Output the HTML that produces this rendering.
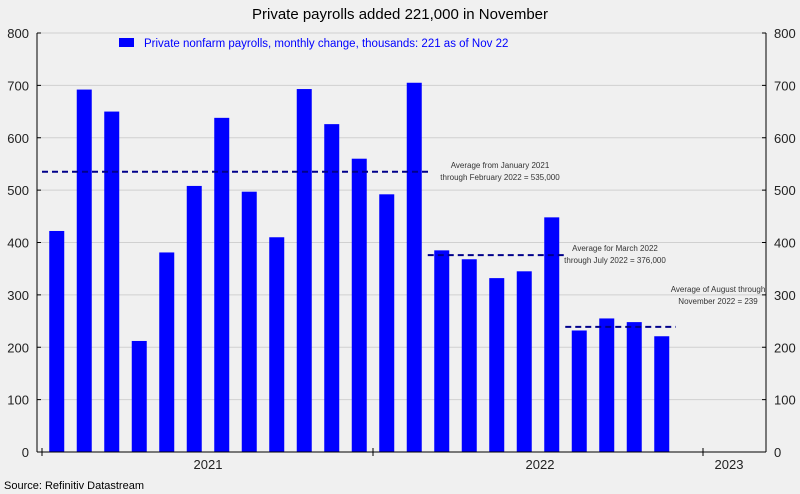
<!DOCTYPE html>
<html><head><meta charset="utf-8"><style>
body{margin:0;background:#f0f0f0;font-family:"Liberation Sans",sans-serif}
svg{display:block}
</style></head><body>
<svg id="c" width="800" height="494" viewBox="0 0 800 494">
<rect width="800" height="494" fill="#f0f0f0"/>
<text x="400" y="19" font-size="15" text-anchor="middle" fill="#000">Private payrolls added 221,000 in November</text>
<g id="grid"></g>
<g id="bars"></g>
<g id="avgs"></g>
<g id="axes"></g>
<rect x="119" y="38" width="15" height="9" fill="#0000ff"/>
<text x="144" y="47" font-size="11.5" fill="#0000ff">Private nonfarm payrolls, monthly change, thousands: 221 as of Nov 22</text>
<text x="4" y="489" font-size="11" fill="#000">Source: Refinitiv Datastream</text>
</svg>
<script>
const values=[422,692,650,212,381,508,638,497,410,693,626,560,492,705,385,368,332,345,448,232,255,248,221];
const yTicks=[0,100,200,300,400,500,600,700,800];
const years=["2021","2022","2023"];
const avgValues=[535,376,239];
const avgStart=[0,14,19];
const avgEnd=[13,18,22];
const avgLabels=[["Average from January 2021","through February 2022 = 535,000"],["Average for March 2022","through July 2022 = 376,000"],["Average of August through","November 2022 = 239"]];
const NS="http://www.w3.org/2000/svg";
const L=37,R=766,T=33,B=452;
const y=v=>B-(v/800)*(B-T);
const x=i=>373+(i-12)*27.5+13.75;
function mk(t,a,p){const e=document.createElementNS(NS,t);for(const k in a)e.setAttribute(k,a[k]);document.getElementById(p).appendChild(e);return e;}
yTicks.forEach(v=>{
 const g=mk('line',{x1:L,x2:R,y1:y(v),y2:y(v),stroke:'#d0d0d0','stroke-width':1},'grid');
 
 
 [[L-8,'end',L,L+4],[R+8,'start',R-4,R]].forEach(([tx,an,a,b])=>{
  const t=mk('text',{x:tx,y:y(v)+5,'font-size':13,'text-anchor':an,fill:'#222'},'axes');t.textContent=v;
  
  
  mk('line',{x1:a,x2:b,y1:y(v),y2:y(v),stroke:'#000'},'axes');
 });
});
values.forEach((v,i)=>{
 const r=mk('rect',{x:x(i)-7.5,y:y(v),width:15,height:B-y(v),fill:'#0000ff'},'bars');
 
 
});
avgValues.forEach((v,k)=>{
 const x1=k==0?42:x(avgStart[k])-14, x2=x(avgEnd[k])+14;
 const l=mk('line',{x1:x1,x2:x2,y1:y(v),y2:y(v),stroke:'#00008b','stroke-width':2,'stroke-dasharray':'6,4'},'avgs');
 
 
 const tx=[500,615,718][k], ty=[y(v)-4,y(v)-4,y(v)-35][k];
 avgLabels[k].forEach((s,j)=>{
  const t=mk('text',{x:tx,y:ty+j*12,'font-size':8,'text-anchor':'middle',fill:'#333'},'avgs');t.textContent=s;
  
  
 });
});
mk('line',{x1:L,x2:L,y1:T,y2:B,stroke:'#000'},'axes');
mk('line',{x1:R,x2:R,y1:T,y2:B,stroke:'#000'},'axes');
mk('line',{x1:L,x2:R,y1:B,y2:B,stroke:'#000'},'axes');
[42,373,703].forEach(tx=>mk('line',{x1:tx,x2:tx,y1:B-4,y2:B+4,stroke:'#000'},'axes'));
[208,540,729].forEach((tx,i)=>{
 const t=mk('text',{x:tx,y:469,'font-size':13,'text-anchor':'middle',fill:'#222'},'axes');t.textContent=years[i];
 
 
});
</script>
</body></html>
